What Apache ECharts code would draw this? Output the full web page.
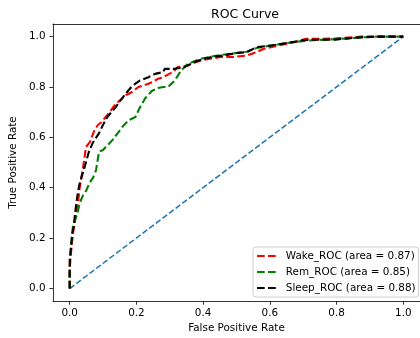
<!DOCTYPE html>
<html><head><meta charset="utf-8">
<script src="https://cdn.jsdelivr.net/npm/echarts@6/dist/echarts.min.js"></script>
<style>html,body{margin:0;padding:0;background:#fff}#c{width:420px;height:338px}</style>
</head><body><div id="c"></div>
<script>
const tickValues = [0, 0.2, 0.4, 0.6, 0.8, 1.0];
const seriesNames = ['Wake_ROC (area = 0.87)', 'Rem_ROC (area = 0.85)', 'Sleep_ROC (area = 0.88)'];

const wakeFpr = [0, 0, 0.005, 0.01, 0.015, 0.02, 0.025, 0.03, 0.035, 0.04, 0.049, 0.06, 0.074, 0.085, 0.095, 0.108, 0.12, 0.138, 0.15, 0.167, 0.187, 0.206, 0.22, 0.236, 0.25, 0.265, 0.28, 0.29, 0.31, 0.324, 0.354, 0.37, 0.393, 0.42, 0.452, 0.49, 0.51, 0.531, 0.56, 0.58, 0.61, 0.649, 0.68, 0.708, 0.757, 0.8, 0.875, 0.95, 1.0];
const wakeTpr = [0, 0.115, 0.154, 0.22, 0.26, 0.3, 0.34, 0.40, 0.44, 0.48, 0.562, 0.58, 0.628, 0.65, 0.66, 0.681, 0.7, 0.734, 0.745, 0.767, 0.78, 0.8, 0.805, 0.813, 0.82, 0.833, 0.838, 0.846, 0.86, 0.879, 0.885, 0.895, 0.905, 0.912, 0.919, 0.919, 0.922, 0.925, 0.938, 0.951, 0.96, 0.971, 0.98, 0.991, 0.991, 0.993, 1.0, 1.0, 1.0];

const remFpr = [0, 0, 0.005, 0.01, 0.015, 0.02, 0.025, 0.03, 0.04, 0.05, 0.059, 0.07, 0.079, 0.088, 0.1, 0.108, 0.118, 0.128, 0.147, 0.16, 0.177, 0.197, 0.211, 0.226, 0.246, 0.265, 0.28, 0.295, 0.315, 0.334, 0.354, 0.393, 0.43, 0.47, 0.5, 0.531, 0.56, 0.6, 0.649, 0.708, 0.796, 0.835, 0.875, 0.92, 1.0];
const remTpr = [0, 0.1, 0.18, 0.25, 0.27, 0.286, 0.31, 0.339, 0.37, 0.39, 0.418, 0.44, 0.47, 0.543, 0.55, 0.562, 0.575, 0.589, 0.622, 0.645, 0.668, 0.681, 0.72, 0.754, 0.784, 0.796, 0.8, 0.8, 0.826, 0.866, 0.892, 0.912, 0.922, 0.93, 0.935, 0.94, 0.955, 0.964, 0.974, 0.984, 0.99, 0.993, 0.997, 1.0, 1.0];

const sleepFpr = [0, 0, 0.003, 0.008, 0.013, 0.015, 0.02, 0.025, 0.03, 0.039, 0.045, 0.059, 0.07, 0.088, 0.1, 0.113, 0.125, 0.138, 0.152, 0.16, 0.172, 0.185, 0.197, 0.211, 0.236, 0.256, 0.28, 0.285, 0.315, 0.344, 0.374, 0.403, 0.43, 0.462, 0.5, 0.531, 0.56, 0.6, 0.649, 0.708, 0.796, 0.835, 0.875, 0.92, 1.0];
const sleepTpr = [0, 0.062, 0.154, 0.22, 0.25, 0.286, 0.339, 0.385, 0.418, 0.457, 0.483, 0.549, 0.58, 0.617, 0.65, 0.681, 0.7, 0.72, 0.747, 0.76, 0.78, 0.8, 0.813, 0.826, 0.839, 0.852, 0.859, 0.872, 0.872, 0.879, 0.899, 0.912, 0.92, 0.925, 0.935, 0.938, 0.958, 0.964, 0.974, 0.987, 0.988, 0.993, 0.997, 1.0, 1.0];

const diagFpr = [0, 1];
const diagTpr = [0, 1];

const FONT = 'DejaVu Sans';
function zip(a, b) { return a.map((v, i) => [v, b[i]]); }
const txt = { fontFamily: FONT, fontSize: 10.4, color: '#000' };
const dashed = (c) => ({ color: c, width: 2.1, type: [7.7, 3.3], cap: 'butt', join: 'round' });

const chart = echarts.init(document.getElementById('c'), null, { renderer: 'canvas' });
chart.setOption({
  animation: false,
  backgroundColor: '#fff',
  title: { text: 'ROC Curve', left: 240, top: 3, textAlign: 'center',
    textStyle: { fontFamily: FONT, fontSize: 12.5, fontWeight: 'normal', color: '#000' } },
  grid: { left: 53, top: 24, width: 374, height: 278, containLabel: false },
  xAxis: [{
    type: 'value', min: -0.05, max: 1.05, position: 'bottom',
    name: 'False Positive Rate', nameLocation: 'middle', nameGap: 21, nameTextStyle: txt,
    axisLine: { show: true, onZero: false, lineStyle: { color: '#000', width: 0.8 } },
    axisTick: { show: true, customValues: tickValues, length: 3.6, lineStyle: { color: '#000', width: 0.8 } },
    axisLabel: Object.assign({ customValues: tickValues, margin: 7, formatter: v => v.toFixed(1) }, txt),
    splitLine: { show: false }
  }, {
    type: 'value', min: -0.05, max: 1.05, position: 'top',
    axisLine: { show: true, onZero: false, lineStyle: { color: '#000', width: 0.8 } },
    axisTick: { show: false }, axisLabel: { show: false }, splitLine: { show: false }
  }],
  yAxis: [{
    type: 'value', min: -0.05, max: 1.05, position: 'left',
    name: 'True Positive Rate', nameLocation: 'middle', nameGap: 27, nameTextStyle: txt,
    axisLine: { show: true, onZero: false, lineStyle: { color: '#000', width: 0.8 } },
    axisTick: { show: true, customValues: tickValues, length: 3.6, lineStyle: { color: '#000', width: 0.8 } },
    axisLabel: Object.assign({ customValues: tickValues, margin: 7.5, formatter: v => v.toFixed(1) }, txt),
    splitLine: { show: false }
  }],
  legend: {
    data: seriesNames, orient: 'vertical', left: 253, top: 247,
    padding: [3, 3, 3, 4], itemGap: 4, itemWidth: 19, itemHeight: 2,
    icon: 'path://M0,0H7.7V2H0Z M11,0H18.7V2H11Z',
    itemStyle: { borderWidth: 0 },
    textStyle: Object.assign({ lineHeight: 12, padding: [0, 0, 0, 5] }, txt),
    backgroundColor: 'rgba(255,255,255,0.8)', borderColor: '#cccccc', borderWidth: 1, borderRadius: 3,
    selectedMode: false
  },
  series: [
    { name: 'diag', type: 'line', data: zip(diagFpr, diagTpr), symbol: 'none', silent: true,
      lineStyle: { color: '#1f77b4', width: 1.56, type: [5.8, 2.5], cap: 'butt' }, z: 1 },
    { name: seriesNames[0], type: 'line', data: zip(wakeFpr, wakeTpr), symbol: 'none', color: '#ff0000', lineStyle: dashed('#ff0000'), z: 2 },
    { name: seriesNames[1], type: 'line', data: zip(remFpr, remTpr), symbol: 'none', color: '#008000', lineStyle: dashed('#008000'), z: 3 },
    { name: seriesNames[2], type: 'line', data: zip(sleepFpr, sleepTpr), symbol: 'none', color: '#000000', lineStyle: dashed('#000000'), z: 4 }
  ]
});
</script></body></html>
